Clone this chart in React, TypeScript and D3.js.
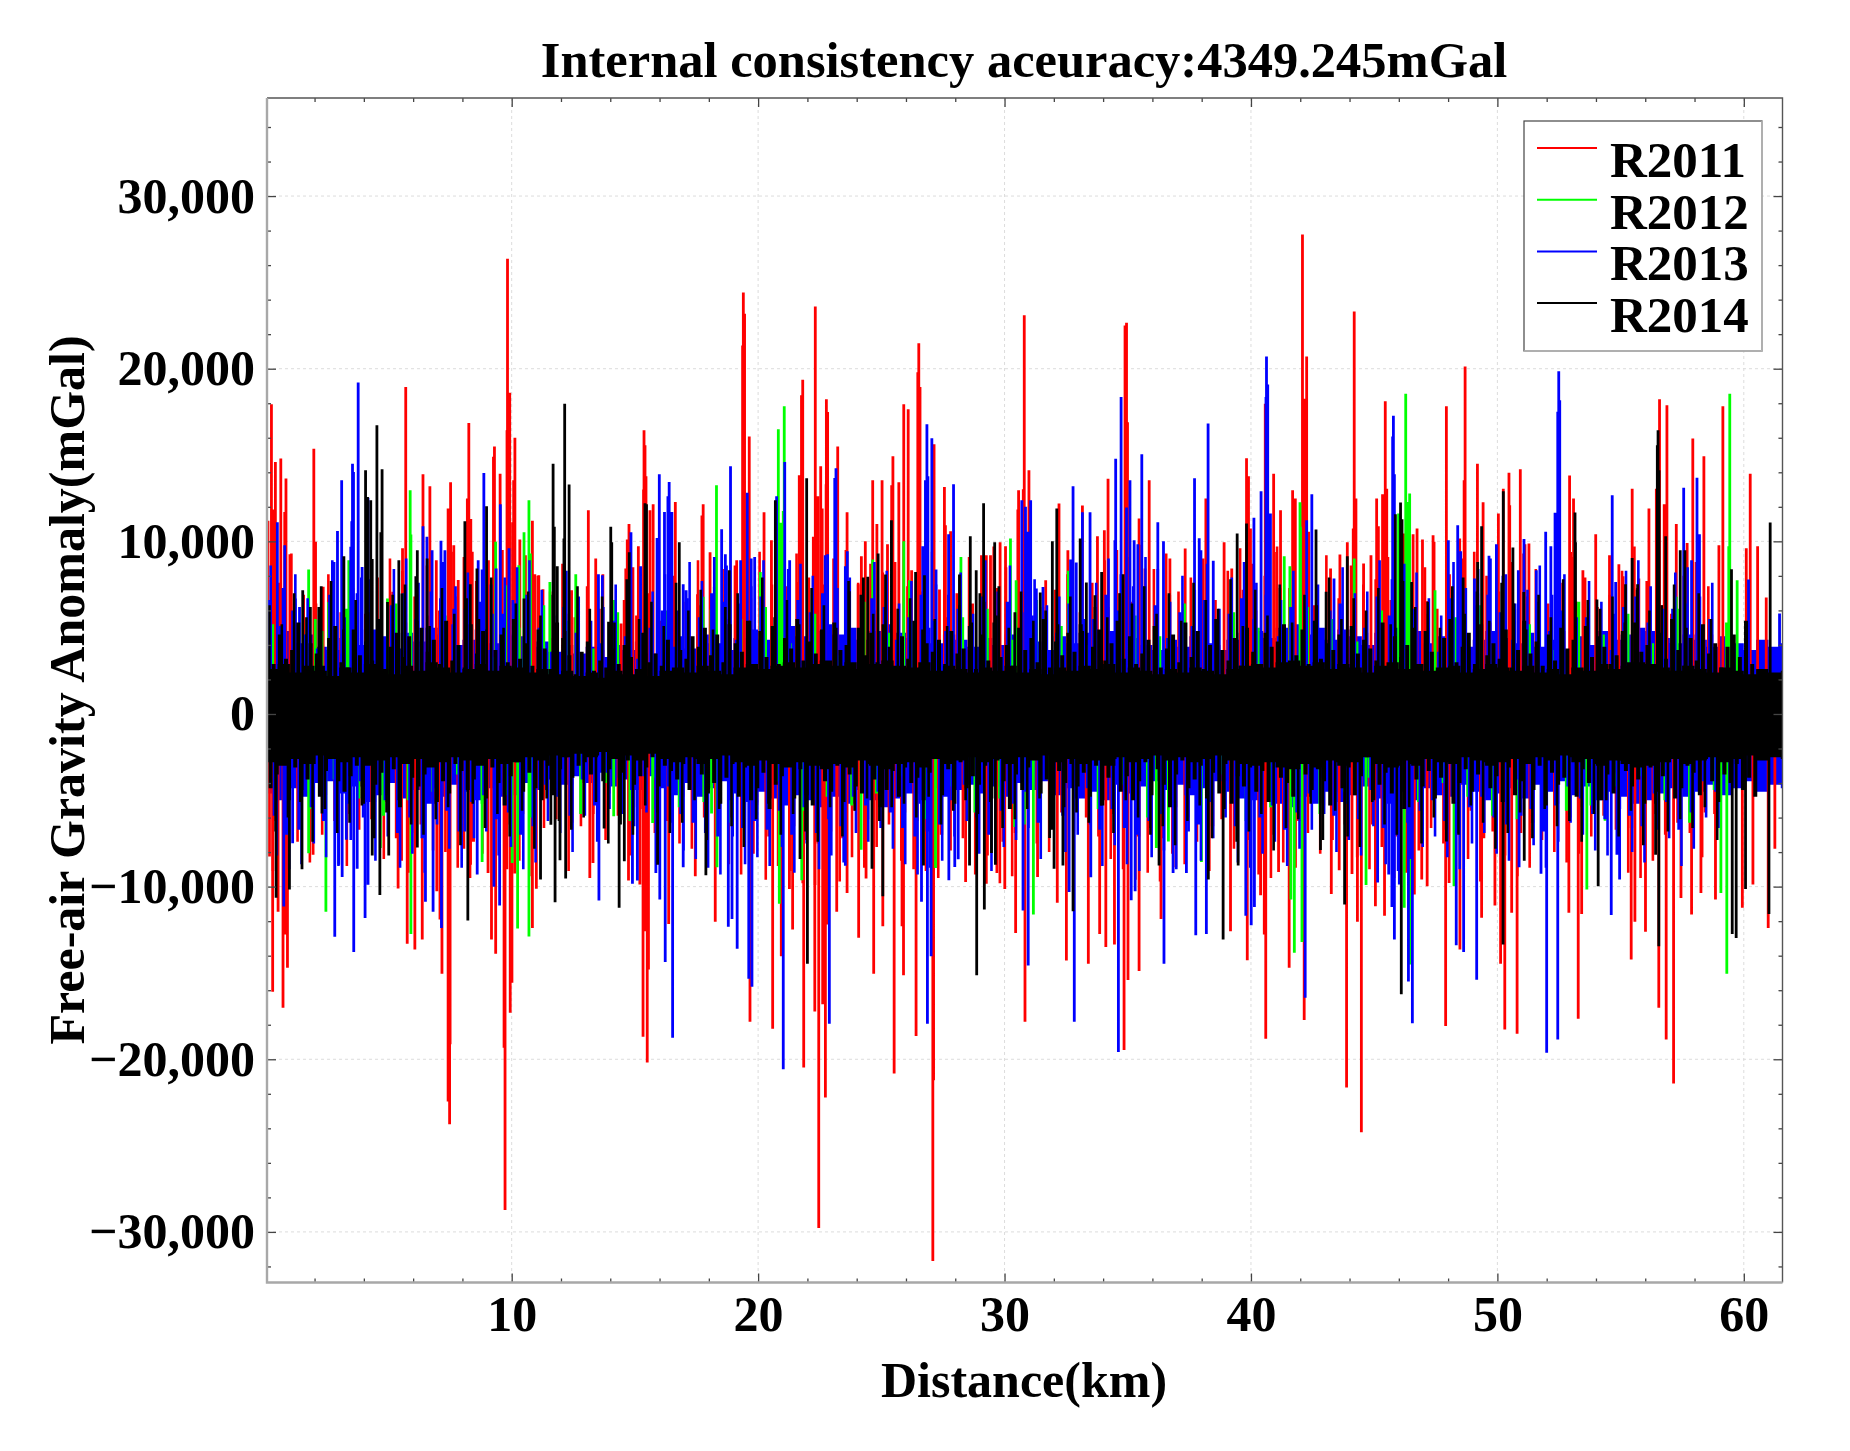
import React, { useEffect, useRef } from 'react';
import * as d3 from 'd3';

const seriesNames = ["R2011", "R2012", "R2013", "R2014"];
const seriesColors = ["#ff0000", "#00ff00", "#0000ff", "#000000"];

// spikes that stand clear of the band: [km, mGal]
const r2011Peaks = [
  [0.25,17940],[0.41,14600],[0.63,14800],[0.84,13640],[0.79,11700],[1.0,9250],[1.97,15370],[2.04,9970],[2.35,7370],[0.11,11200],[0.3,11840],[5.7,18940],[5.57,9600],[6.4,13880],[6.68,13190],[6.94,8900],[7.52,13420],[7.42,11900],[7.65,9780],[8.26,16860],[8.2,12480],[8.34,11300],[8.4,9400],[7.83,7760],[9.3,15500],[9.26,14900],[9.53,13920],[9.62,9500],[9.83,26370],[9.92,18600],[9.81,16430],[10.13,16000],[10.08,13540],[10.04,11100],[10.33,10100],[10.84,11200],[10.94,8100],[11.1,8040],[11.27,7230],[13.11,11800],[13.41,9000],[13.7,8100],[14.44,5240],[14.63,8430],[14.76,11000],[14.69,10100],[15.14,9720],[15.37,16430],[15.41,15560],[15.35,13000],[5.17,7080],[14.92,8500],[12.43,7170],
  [19.4,24420],[19.45,23180],[19.37,21350],[19.64,16080],[22.32,23600],[21.81,19360],[21.76,18460],[21.67,13830],[22.77,18230],[22.82,17490],[22.54,14350],[22.42,12610],[23.23,15500],[22.6,11900],[22.76,13310],[22.24,10260],[23.61,11690],[15.45,13770],[15.61,11800],[15.74,12150],[16.64,12280],[17.77,12150],[17.72,11500],[20.24,11690],[20.54,10070],[18.05,9370],[17.54,6940],[19.13,8900],[24.19,9140],[24.35,10000],[24.06,7520],[24.65,13540],[24.82,11000],[25.03,13540],[25.25,9830],[25.47,14930],[25.42,13250],[25.71,13420],[25.91,17940],[26.09,17650],[26.52,21480],[26.48,19790],[26.57,18940],[26.23,8330],[27.14,15620],[27.56,13150],[27.6,10930],[27.81,10590],[27.36,7210],[29.43,9200],[29.82,9950],[30.04,9720],[30.57,12960],[30.54,11840],[30.8,23090],[30.76,13020],[21.6,7650],[29.26,9200],
  [34.95,22660],[34.89,22500],[34.99,16900],[30.99,14120],[32.21,12190],[34.2,13630],[33.77,10300],[34.05,10640],[35.87,13540],[35.46,11320],[35.7,8430],[32.57,9490],[33.16,12070],[36.71,9000],[37.33,9580],[38.17,12480],[38.91,9950],[39.22,8430],[39.82,14810],[39.9,13770],[39.98,10740],[40.58,17970],[40.92,13920],[41.2,11800],[41.04,9390],[41.69,12960],[41.8,12480],[42.09,27770],[42.26,20710],[42.16,18260],[42.34,10550],[44.19,23320],[44.26,12480],[44.15,10740],[43.91,9950],[43.61,9240],[45.45,18110],[45.51,13050],[45.34,12730],[45.1,12480],[45.17,10880],[44.87,9200],[44.57,8720],[46.22,10450],[43.23,8430],[31.67,7750],
  [48.69,20130],[47.93,17820],[48.65,13540],[49.19,14500],[49.42,12260],[47.39,10350],[47.43,9970],[46.58,10410],[46.74,10740],[46.96,10100],[48.47,10160],[47.17,6550],[50.24,13050],[50.47,13980],[50.93,14170],[50.04,11610],[51.12,9830],[51.28,9870],[50.5,12090],[52.93,13810],[53.09,12480],[53.99,10410],[54.93,8680],[54.55,9200],[55.47,13050],[56.15,11900],[56.58,18230],[56.88,17880],[56.77,12150],[56.45,13050],[57.26,11000],[57.93,15950],[58.38,14930],[57.7,9910],[59.15,17820],[58.99,9780],[60.26,13920],[60.1,9600],[60.56,9720],[60.91,6750],[53.47,8330],[55.1,7980],[55.74,7850],[52.97,9390],
  [0.3,-16090],[0.72,-17010],[0.9,-14700],[0.52,-11460],[0.17,-8250],[0.79,-12770],[1.94,-8150],[5.39,-10110],[5.53,-8500],[5.76,-13310],[6.07,-13640],[6.37,-13060],[6.96,-10270],[7.09,-11910],[7.17,-15050],[7.48,-23760],[7.42,-22450],[7.5,-19130],[8.06,-7800],[8.33,-8730],[9.18,-13060],[9.35,-13890],[9.73,-28730],[9.69,-19330],[9.94,-17300],[10.01,-15570],[9.04,-9210],[10.84,-12390],[11.0,-10120],[13.17,-9500],[13.3,-8630],[14.74,-9650],[15.33,-18690],[15.41,-12580],[10.13,-9240],[15.2,-9880],[12.41,-6500],[0.05,-10350],
  [15.5,-20190],[15.55,-14800],[19.67,-17820],[20.59,-18230],[18.26,-12040],[17.45,-9400],[21.4,-12480],[21.85,-20480],[22.46,-29770],[22.73,-22220],[22.3,-17240],[22.62,-16820],[23.19,-11460],[24.08,-12960],[24.69,-15050],[25.06,-12290],[25.52,-20830],[25.9,-15130],[26.41,-18650],[25.84,-12290],[27.09,-31690],[27.12,-21210],[28.42,-9730],[29.26,-9840],[30.01,-10130],[30.45,-12680],[30.83,-17820],[16.37,-12160],[21.27,-10130],[23.61,-10370],[24.38,-9530],[20.94,-14030],[22.82,-12200],[29.69,-9210],
  [32.51,-14280],[32.14,-10940],[31.34,-9440],[33.4,-14470],[33.86,-12740],[34.11,-13490],[34.46,-13350],[34.85,-19460],[35.01,-15410],[35.46,-14890],[36.35,-11870],[36.95,-8880],[39.17,-12580],[39.85,-14260],[40.6,-18810],[40.39,-10500],[41.55,-14700],[42.16,-17720],[43.26,-10420],[43.58,-9050],[43.88,-21640],[44.48,-24230],[44.32,-12040],[44.1,-9270],[45.05,-11140],[45.42,-11680],[41.12,-9150],[40.54,-12770],
  [47.9,-18070],[50.3,-18270],[50.8,-18520],[53.28,-17650],[55.43,-14220],[55.58,-12040],[56.01,-12620],[56.55,-17010],[56.85,-18850],[57.15,-21410],[50.13,-14470],[49.36,-11800],[49.9,-11090],[48.48,-13640],[50.58,-11520],[52.9,-11520],[53.42,-11580],[47.15,-9980],[46.93,-9590],[46.63,-10460],[48.04,-9790],[57.88,-11620],[57.45,-10660],[58.26,-10370],[58.85,-10750],[59.94,-11230],[60.99,-12390],[61.26,-7800],[60.37,-9880]
];
const r2012Peaks = [
  [1.76,8370],[2.57,6480],[3.39,8900],[5.88,12960],[5.91,10400],[4.96,6690],[9.35,9970],[9.75,7460],[10.29,8620],[10.5,10530],[10.7,12380],[10.76,9290],[11.55,7650],[12.6,8100],[14.17,6600],[2.03,5500],
  [20.82,16490],[21.06,17820],[21.02,11760],[20.92,11070],[18.31,13250],[18.22,7370],[17.77,6790],[20.09,8230],[24.65,8950],[25.91,10000],[26.14,7750],[28.23,9100],[30.24,10160],[30.47,7750],[18.09,6050],
  [41.99,12260],[42.01,10840],[41.35,9140],[41.58,8560],[44.19,9000],[45.99,11610],[32.59,8290],
  [46.28,18550],[46.44,12770],[46.39,12280],[59.43,18550],[59.39,9720],[59.73,7750],[47.47,7170],[57.26,6790],
  [2.46,-11460],[1.76,-8060],[5.91,-12740],[10.24,-12430],[10.7,-12890],[7.92,-5930],[8.8,-8570],[14.14,-5930],[10.02,-8630],[4.67,-7760],
  [20.86,-10990],[21.77,-9630],[18.33,-8880],[27.2,-8920],[24.18,-7860],[30.41,-6540],[15.72,-6320],[18.11,-5770],
  [31.17,-11620],[41.76,-13830],[42.07,-13200],[37.99,-8570],[44.67,-9910],[46.22,-11230],[36.16,-7760],[36.65,-7380],[41.62,-10750],
  [59.31,-15050],[46.44,-14510],[53.63,-10170],[48.24,-9980],[59.07,-10370],[54.37,-6180]
];
const r2013Peaks = [
  [3.77,19200],[3.54,14500],[3.58,14020],[3.1,13540],[2.93,10600],[2.79,8800],[0.49,11100],[0.79,9780],[1.22,6690],[1.39,6200],[3.47,9680],[3.51,11170],[3.93,8520],[3.9,7900],[4.17,12530],[6.4,10880],[6.56,10260],[6.77,9490],[7.13,10030],[7.29,9490],[7.23,8810],[7.65,6100],[8.64,8900],[8.87,13960],[9.54,12150],[8.8,8370],[9.37,8430],[9.89,9600],[10.05,6600],[14.84,10530],[15.23,8560],[13.52,8100],[13.68,8040],[5.2,6100],[9.16,7500],
  [15.99,13880],[16.39,13440],[16.2,11700],[16.34,12610],[18.88,14350],[18.52,10700],[18.67,9250],[15.9,10200],[16.5,11700],[19.56,12820],[19.72,9000],[19.86,9100],[20.75,12610],[21.08,14600],[21.28,8900],[23.16,14230],[23.11,13670],[23.54,8560],[23.62,9430],[26.85,16780],[27.05,15970],[26.79,13540],[26.89,13770],[26.68,9720],[27.93,13310],[27.73,10410],[30.7,12380],[30.85,12000],[16.96,7520],[17.08,7170],[22.82,9250],[27.22,8370],[19.29,8900],
  [31.06,12380],[30.96,10550],[32.78,13190],[32.68,8950],[32.91,8770],[33.16,11690],[33.47,11690],[34.51,14790],[34.73,18360],[35.09,13540],[34.95,11960],[34.48,10070],[35.57,15040],[35.26,10070],[35.41,9830],[36.22,11110],[36.45,10010],[37.71,13650],[38.26,16820],[37.9,10180],[37.97,9490],[38.47,8870],[40.63,20710],[40.68,19090],[40.41,12900],[40.12,11360],[40.61,18360],[40.79,11610],[42.47,12730],[42.26,11220],[45.78,17280],[45.75,16080],[45.82,13880],[43.37,7850],[31.29,7270],[31.56,7360],
  [52.49,19850],[52.53,18170],[52.45,17500],[52.34,11650],[51.96,10550],[52.17,9720],[54.66,12670],[57.56,13110],[58.1,13690],[58.2,10410],[48.39,10930],[48.01,10070],[48.51,9430],[49.96,9830],[49.66,9160],[51.08,10130],[50.85,8330],[51.58,8330],[50.34,8100],[60.19,7790],[57.88,8900],[49.07,7850],[54.8,7650],[61.45,5820],
  [2.82,-12910],[3.59,-13780],[4.05,-11810],[3.12,-9440],[2.98,-8730],[3.29,-7280],[3.73,-8960],[4.17,-9890],[6.5,-10880],[6.81,-11460],[8.6,-9300],[9.51,-11100],[9.28,-10000],[13.54,-10800],[1.11,-7480],[8.1,-6800],[0.75,-11150],[7.15,-12400],[14.9,-9840],[15.1,-9640],
  [16.53,-18750],[16.23,-14360],[16.01,-10750],[15.85,-9210],[21.02,-20580],[19.15,-13600],[18.79,-12330],[18.94,-11870],[19.75,-15800],[19.62,-15340],[22.89,-17940],[26.87,-17940],[27.02,-14030],[26.63,-10880],[30.75,-11380],[27.74,-9630],[27.98,-8860],[28.12,-8410],[16.96,-8880],[23.54,-8790],
  [30.96,-14570],[32.83,-17820],[34.62,-19580],[36.47,-14470],[37.76,-12810],[38.19,-12740],[42.2,-16440],[40.01,-12230],[39.79,-11680],[35.3,-10270],[35.14,-10790],[36.84,-9210],[37.38,-9210],[32.62,-10310],[45.82,-13060],[45.14,-9760],[45.72,-11180],[40.14,-11180],[33.5,-9460],[46.02,-9880],[45.59,-9300],
  [46.55,-17920],[46.39,-15490],[48.33,-13390],[48.63,-13780],[49.16,-15400],[52,-19620],[52.45,-18850],[54.62,-11640],[51.77,-9260],[50.88,-8880],[54.96,-9590],[54.85,-8150]
];
const r2014Peaks = [
  [4.53,16720],[4.07,14120],[4.74,14170],[4.28,12380],[4.15,12570],[4.34,8980],[4.69,10530],[3.19,9140],[1.52,7170],[2.27,7400],[12.15,17970],[11.68,14500],[11.73,10840],[12.33,13290],[12.12,10160],[11.85,8560],[8.1,11170],[8.98,12030],[8.59,8430],[5.42,8900],[6.17,9490],[5.55,6980],[6.57,9000],[14.02,10840],[14.06,9950],[14.77,9370],[13.93,5340],[10.5,6690],[4.96,6490],[8.32,7520],[6.11,7980],[1.83,6200],[15.41,12200],
  [15.47,12150],[16.8,9950],[20.7,12380],[21.97,13650],[25.41,11220],[24.87,9290],[24.27,7900],[28.61,10300],[29.15,12200],[28.85,8330],[26.39,8230],[26.75,8040],[29.6,9950],[28.17,8080],[18.83,8330],[25.17,8080],[29,7000],[29.77,7400],[24.45,7950],[30.42,5900],[23.7,7110],
  [31.94,10010],[32.12,11900],[39.44,10450],[39.82,11030],[42.64,10680],[45.86,11570],[46.07,12250],[33.07,10160],[33.32,7620],[33.94,8230],[46.13,11280],[43.91,9140],[43.05,7080],[31.45,7040],[34.81,8100],[33.67,6880],
  [56.52,16430],[56.49,15560],[56.56,14120],[50.24,12900],[49.36,10880],[50.63,9640],[53.15,11670],[53.17,9950],[61.07,11090],[55.47,9040],[56.83,10300],[57.42,9490],[57.61,9490],[48.61,7900],[49.2,8810],[59.5,8390],[55.2,7520],[55.69,7520],[54.04,6630],[46.52,7650],[51.07,7070],
  [0.44,-10650],[0.98,-10170],[1.49,-9000],[4.65,-10480],[4.34,-8190],[5.01,-8190],[8.22,-11960],[11.17,-9590],[11.76,-10910],[11.96,-8470],[12.19,-9530],[11.59,-6410],[14.36,-11230],[14.57,-8530],[6.17,-7730],[2.3,-5760],[13.75,-6640],
  [28.87,-15130],[29.18,-11330],[22,-14470],[17.88,-9340],[25.06,-10560],[28.58,-8770],[29.63,-8730],[24.62,-8960],[26.71,-8770],[21.7,-8400],[29.47,-8050],[15.92,-8730],
  [46.1,-16240],[43.8,-11040],[38.87,-13060],[32.78,-11420],[32.01,-8960],[31.83,-7190],[38.27,-9590],[36.27,-8770],[39.48,-8770],[32.37,-8770],[42.82,-7880],
  [50.23,-13350],[56.55,-13450],[59.53,-12740],[59.69,-12970],[61.02,-11580],[54.09,-9980],[51.09,-8500],[60.07,-10130],[47.93,-7380],[56.42,-8150]
];

// the crowd under the spikes, one reading per sampling step, up and down in turn
const denseStepKm = [0.25, 0.5, 0.25, 0.125];
const denseStartKm = [0.19, 0.3, 0.12, 0.09];
const denseWidths = [3.4, 3, 3.4, 4];
const r2011Dense = [
  5600,-6200,7100,-4800,6400,-5300,4300,-3900,3600,-4700,5100,-3400,3900,-5800,4600,-4200,3300,-3600,4800,-5100,
  6200,-4400,5300,-6900,4100,-3800,5700,-4900,3500,-5500,6800,-6100,7300,-7400,4900,-5200,6100,-4500,3800,-6400,
  7200,-5800,6600,-7000,5400,-4100,4400,-3700,5800,-6300,3200,-4000,4700,-3300,3700,-4600,5000,-3500,4200,-5400,
  3400,-3100,4500,-4300,3000,-3800,5200,-4800,3900,-5000,6300,-3600,4000,-4700,5500,-6000,5900,-6600,6700,-5300,
  7000,-7100,4600,-5900,7400,-6500,6900,-7300,5100,-7500,7500,-6800,6500,-7200,7200,-5600,4800,-6100,6000,-4900,
  5400,-3900,6100,-5700,4700,-6200,7100,-6400,6800,-7000,5600,-5100,4300,-4400,6400,-6700,6600,-5500,7300,-7400,
  5800,-6900,4200,-3800,5000,-4700,3700,-5200,4400,-3400,5300,-4100,3500,-3600,4900,-4500,6200,-5800,7000,-6300,
  6500,-7100,7400,-6600,5700,-7200,6900,-5400,4500,-6000,5100,-4800,6300,-6500,4000,-3700,5600,-5000,7200,-7300,
  6000,-6800,5200,-7000,7300,-5900,4600,-6200,5500,-4300,3800,-5300,6700,-4600,4100,-3900,5900,-5700,4700,-6400,
  5000,-4900,6600,-7100,7100,-6700,4300,-5100,5800,-4000,3600,-4800,5400,-6100,6400,-5600,7000,-7200,5300,-4200,
  4400,-5500,6100,-6900,6800,-6300,5700,-4700,3900,-5200,4800,-6000,6500,-5400,5100,-4500,3700,-3500,4200,-4100,
  5600,-6600,7300,-7000,4900,-5800,6300,-4400,3400,-3800,5200,-4300,6200,-5700,4600,-3600
];
const r2012Dense = [
  5200,-4100,3600,-5500,4800,-3800,6100,-4900,4200,-5900,6400,-5000,3900,-4500,5700,-3500,4400,-5200,3300,-4700,
  5000,-6000,6300,-4300,5400,-5800,3800,-4000,5900,-6200,4600,-3700,6000,-5400,3500,-5100,4900,-6300,5500,-4400,
  6200,-3900,4100,-5600,5800,-4800,3400,-5300,6500,-4600,4700,-3600,5300,-6100,3700,-4200,5600,-5700,6100,-4900,
  4300,-6400,6600,-3800,5100,-5000,4000,-5500,3600,-4100,5700,-6000,4500,-5200,6400,-4700,3900,-3500,5900,-6200,
  5000,-5400,3800,-4300,6200,-5800,5500,-4500,4200,-3700,6000,-6500,4800,-5100,3500,-4000,5600,-4800,6300,-5900,
  4400,-6100,5200,-3900,3700,-5600,6500,-5300,4600,-4200,5800,-3600,4100,-5000,6100,-6300,3400,-4400,5300
];
const r2013Dense = [
  6600,-5900,5100,-7000,6000,-6700,4600,-5400,3800,-6200,6900,-6600,3500,-5200,4800,-3900,5700,-6400,4200,-5000,
  6300,-6900,7000,-6000,5500,-7200,4900,-4300,6700,-5600,5200,-6800,6100,-5100,4400,-4700,3700,-6100,5800,-5700,
  6400,-7000,6900,-6500,5000,-4100,3600,-4800,6200,-5900,4700,-3800,3300,-5300,4100,-3400,5400,-3700,4500,-4400,
  3200,-3600,5000,-5500,6000,-4200,3900,-5800,6700,-6300,5600,-6900,7000,-7100,6500,-5000,4300,-6600,5300,-6200,
  6800,-6700,4000,-5600,6300,-7000,6600,-5400,5900,-6900,7000,-6100,5200,-6500,5800,-4800,4600,-5300,6700,-4500,
  6200,-5700,4300,-6600,5600,-7100,6900,-6800,5400,-6400,4800,-5000,6100,-4100,3700,-6000,6800,-7000,5000,-5600,
  6500,-5200,3800,-4500,5700,-6300,4200,-3600,4700,-5900,6400,-4900,3400,-4300,5500,-6700,6900,-5500,6000,-6600,
  5300,-7000,7000,-6200,6300,-5800,4400,-6900,5900,-4700,5100,-6400,6600,-5100,4000,-3900,5800,-6500,6700,-6800,
  5500,-6000,6900,-5300,4500,-6700,6200,-5700,4100,-4600,5400,-3700,3900,-5900,6400,-5200,4900,-6100,5000,-4400,
  6800,-6600,5700,-7000,6600,-6300,6100,-5600,4600,-5000,3600,-6200,6700,-6900,5200,-5400,6300,-4800,6900,-6000,
  5900,-6400,4300,-3800,5100,-5500,6500,-6800,4800,-5300,6000,-4200,3500,-4900,5600,-5800,4400,-6100,3700,-3400,
  6200,-5900,6800,-6500,5300,-4600,4000,-5100,6100,-6700,6400,-5700,4700,-3900,5500,-4500
];
const r2014Dense = [
  3800,-4300,2900,-3500,4600,-2700,3200,-5000,3700,-3100,5300,-4400,2500,-3800,4100,-2900,3500,-4800,2800,-3300,
  4400,-2600,5100,-3900,3000,-4500,2700,-3600,4900,-3000,3400,-5200,4200,-2800,3100,-4100,5500,-3400,2600,-4700,
  3900,-3200,4700,-5400,3300,-2500,4500,-3700,2400,-4200,5000,-3500,3600,-2700,4300,-5100,2900,-3900,5400,-4600,
  3100,-2900,4000,-3300,2700,-4400,5200,-3800,3500,-2600,4800,-4900,2500,-3100,3700,-4000,4600,-5300,3000,-3600,
  5500,-2800,3200,-4500,4100,-3400,2800,-4300,4900,-5000,3800,-3000,2600,-4700,5300,-3200,4400,-2500,3400,-3700,
  2300,-3000,3600,-2800,4200,-3500,2500,-2400,3100,-3900,2700,-3200,3800,-2600,2900,-3400,4000,-2700,3300,-4100,
  2600,-3600,4700,-3100,3000,-2500,3500,-4200,2800,-3000,4300,-3300,2400,-3800,3700,-2900,3200,-4400,4500,-2600,
  3900,-3500,5000,-4600,3400,-4000,4600,-5200,3000,-3700,5200,-2900,4100,-4800,3600,-3100,5400,-5000,2700,-4300,
  4800,-3400,3300,-5500,5100,-4100,2900,-3600,4400,-2800,3800,-4900,5500,-3200,3100,-4700,4200,-5300,3500,-2700,
  4900,-3900,2800,-4500,5300,-3000,3700,-5100,4000,-3500,2600,-4200,5000,-4600,3400,-2900,4700,-3800,3000,-5400,
  5200,-4400,3900,-3300,2500,-4800,4500,-3100,3200,-4000,5400,-3700,2700,-5000,4100,-3400,3600,-2600,4300,-4700,
  2900,-3200,4800,-5200,3500,-2800,3800,-4300,5100,-3600,2600,-4100,4600,-3000,3100,-4900,5300,-2700,3300,-3900,
  4000,-5500,2800,-3500,5000,-4400,3700,-3100,4400,-2500,3000,-4600,5500,-3800,2700,-5100,4200,-3300,3400,-4000,
  4700,-2900,3600,-4200,5200,-3400,2500,-4800,3900,-3000,4900,-5300,3100,-3700,4100,-2600,5400,-4500,3200,-3600,
  4500,-5000,2900,-3900,3500,-2800,4300,-4700,5100,-3200,2700,-4100,3800,-5400,4600,-3500,3000,-2700,5300,-4300,
  3300,-3800,4800,-3000,2600,-4900,4000,-3400,5500,-4600,3700,-2900,3100,-5200,4400,-3600,2800,-4200,5000,-3100,
  3600,-4500,2500,-3300,4700,-5100,3900,-2700,4200,-3700,5200,-4000,3000,-4800,3400,-2600,4900,-3500,2900,-4400,
  5400,-3200,3200,-3900,4100,-5300,3700,-2800,4600,-4300,2700,-3100,5100,-4700,3500,-3600,4300,-2500,3800,-5000,
  3100,-4100,5300,-3400,2600,-4600,4500,-3000,3300,-5500,4000,-2900,5000,-3800,2800,-4200,4800,-3300,3600,-4900,
  2500,-3700,4400,-2700,5500,-5200,3000,-4000,3900,-3200,4700,-4500,2900,-3500,5200,-2800,3400,-4300,4100,-3600,
  3200,-5100,4900,-3100,2700,-4700,3700,-3900,5400,-2600,3500,-4400,4200,-3000,2800,-5300,4600,-3400,3100,-4100,
  5000,-3700,3800,-2500,4300,-4800,2600,-3200,5100,-4000,3300,-2900,4500,-5000,3900,-3500,2900,-4600,3400,-2700,
  4800,-3300,3000,-4200,5300,-3800,3600,-5200,4000,-3100,2500,-4500,4700,-3600,3200,-2800,5500,-4900,3700,-4300,
  2800,-3000,4400,-3400,3100,-4700,5200,-2600,3500,-3900,4100,-5100,2700,-3500,3900,-4000,4600,-2900,3300,-4400,
  5400,-3700,2900,-4800
];

// taller needles that crowd the 5,000 to 9,000 zone, one per 0.25 km, up and down in turn
const upperStepKm = 0.25;
const upperStartKm = [0.06, 0.0, 0.22, 0.17];
const r2011Upper = [
  8800,-9100,7600,-8200,9300,-7400,6900,-8600,6400,-7000,8100,-6200,5900,-8800,7300,-6700,5800,-6100,7900,-8400,
  9000,-7200,8300,-9200,6800,-6400,8600,-7900,6000,-8000,9400,-8900,9100,-9500,7700,-8100,8900,-7000,6300,-9000,
  9500,-8500,9200,-9400,8000,-6600,7100,-6100,8700,-9100,5600,-6500,7400,-5800,6100,-7300,7800,-5900,6600,-8200,
  5700,-5500,7000,-6900,5400,-6200,8000,-7500,6500,-7800,8900,-6000,6700,-7200,8400,-8700,8600,-9300,9200,-8100,
  9400,-9600,7500,-8800,9700,-9100,9300,-9800,7900,-9900,9800,-9200,9000,-9700,9500,-8300,7600,-8900,8700,-7700,
  8200,-6400,8800,-8500,7400,-9000,9600,-9100,9400,-9500,8300,-7900,7000,-7200,9100,-9300,9200,-8200,9700,-9800,
  8500,-9400,6900,-6300,7800,-7500,6200,-8000,7200,-5700,8100,-6800,5900,-6000,7600,-7100,8900,-8400,9500,-9000,
  9100,-9600,9800,-9200,8400,-9700,9300,-8100,7100,-8700,7900,-7400,9000,-9100,6600,-6100,8300,-7800,9600,-9700,
  8700,-9300,8000,-9500,9700,-8600,7300,-8900,8200,-6900,6300,-8100,9200,-7300,6700,-6400,8600,-8300,7500,-9000,
  7800,-7700,9100,-9500,9600,-9200,7000,-7900,8500,-6600,6100,-7500,8100,-8800,9000,-8400,9400,-9700,8000,-6800,
  7100,-8200,8800,-9400,9300,-8900,8400,-7300,6400,-8000,7600,-8600,9100,-8100,7900,-7100,6200,-5900,6900,-6700,
  8300,-9200,9700,-9500,7700,-8500,8900,-7000,5800,-6300,8000,-6900,8800,-8300,7400,-5800
];
const r2013Upper = [
  8600,-8200,7300,-9000,8100,-8700,6700,-7500,5900,-8300,8900,-8800,5600,-7300,7000,-6000,7800,-8500,6300,-7100,
  8400,-8900,9000,-8100,7600,-9200,7100,-6400,8800,-7800,7400,-8900,8200,-7200,6500,-6800,5800,-8200,7900,-7700,
  8500,-9000,8900,-8600,7200,-6200,5700,-6900,8300,-8000,6800,-5900,5400,-7400,6200,-5500,7500,-5800,6600,-6500,
  5300,-5700,7100,-7600,8100,-6300,6000,-7900,8800,-8400,7700,-8900,9100,-9300,8600,-7100,6400,-8700,7400,-8300,
  8900,-8800,6100,-7700,8400,-9200,8700,-7500,8000,-9000,9200,-8200,7300,-8600,7900,-6900,6700,-7400,8800,-6600,
  8300,-7800,6400,-8700,7700,-9300,9000,-8900,7500,-8500,6900,-7100,8200,-6200,5800,-8100,8900,-9100,7100,-7700,
  8600,-7300,5900,-6600,7800,-8400,6300,-5700,6800,-8000,8500,-7000,5500,-6400,7600,-8800,9000,-7600,8100,-8700,
  7400,-9100,9100,-8300,8400,-7900,6500,-9000,8000,-6800,7200,-8500,8700,-7200,6100,-6000,7900,-8600,8800,-8900,
  7600,-8100,9000,-7400,6600,-8800,8300,-7800,6200,-6700,7500,-5800,6000,-8000,8500,-7300,7000,-8200,7100,-6500,
  8900,-8700,7800,-9100,8700,-8400,8200,-7700,6700,-7100,5700,-8300,8800,-9000,7300,-7500,8400,-6900,9000,-8100,
  8000,-8500,6400,-5900,7200,-7600,8600,-8900,6900,-7400,8100,-6300,5600,-7000,7700,-7900,6500,-8200,5800,-5500,
  8300,-8000,8900,-8600,7400,-6700,6100,-7200,8200,-8800,8500,-7800,6800,-6000,7600,-6600
];
const r2014Upper = [
  6300,-6800,5200,-6000,7000,-5100,5600,-7400,6200,-5500,7700,-6900,4900,-6300,6600,-5300,5900,-7200,5200,-5700,
  6900,-5000,7500,-6400,5400,-7000,5100,-6100,7300,-5400,5800,-7600,6700,-5200,5500,-6600,7900,-5800,5000,-7100,
  6400,-5600,7100,-7800,5700,-4900,6900,-6200,4800,-6700,7400,-6000,6100,-5100,6800,-7500,5300,-6400,7800,-7000,
  5500,-5300,6500,-5700,5100,-6900,7600,-6300,6000,-5000,7200,-7300,4900,-5500,6200,-6500,7000,-7700,5400,-6100,
  7900,-5200,5600,-7000,6600,-5800,5200,-6800,7300,-7400,6300,-5400,5000,-7100,7700,-5600,6900,-4900,5800,-6200,
  4700,-5400,6100,-5200,6700,-6000,4900,-4800,5500,-6400,5100,-5600,6300,-5000,5300,-5800,6500,-5100,5700,-6600,
  5000,-6100,7100,-5500,5400,-4900,6000,-6700,5200,-5400,6800,-5700,4800,-6300,6200,-5300,5600,-6900,7000,-5000,
  6400,-6000,7400,-7000,5800,-6500,7000,-7600,5400,-6200,7600,-5300,6600,-7200,6100,-5500,7800,-7400,5100,-6800,
  7200,-5800,5700,-7900,7500,-6600,5300,-6100,6900,-5200,6300,-7300,7900,-5600,5500,-7100,6700,-7700,6000,-5100,
  7300,-6400,5200,-7000,7700,-5400,6200,-7500,6500,-6000,5000,-6700,7400,-7000,5800,-5300,7100,-6300,5400,-7800,
  7600,-6900,6400,-5700,4900,-7200,6900,-5500,5600,-6500,7800,-6200,5100,-7400,6600,-5800,6100,-5000,6800,-7100,
  5300,-5600,7200,-7600,6000,-5200,6300,-6800,7500,-6100,5000,-6600,7000,-5400,5500,-7300
];

// envelopes of the band too dense to resolve, one reading per 0.5 km
const bandStepKm = 0.5;
const coreTop = [
  2600,2900,2400,2800,2500,2200,2700,2400,2900,2600,2300,2800,2500,3000,2700,2400,2600,2900,2500,2800,2700,2400,2600,2300,2500,
  2200,2400,2100,2500,2300,2600,2200,2500,2700,2400,2800,2500,2300,2700,2900,2600,2800,3000,2700,2900,3100,2800,3000,2600,2900,
  3100,2800,2700,3000,2500,2800,2600,2400,2700,2500,2800,2400,2600,2300,2700,2500,2800,2600,2900,2400,2700,2500,2300,2600,2400,
  2700,2500,2300,2600,2800,2900,2700,3000,3100,2800,3000,2600,2900,2700,2400,2800,3000,2600,2900,2500,2700,2800,2400,2600,2900,
  2700,2500,2800,2400,2600,2300,2700,2500,2900,2600,2800,3000,2900,2700,2500,2800,2600,2400,2700,2500,2300,2600,2400,2500,2300
];
const coreBottom = [
  -2800,-3000,-2600,-2900,-2400,-2600,-2800,-2500,-3000,-2700,-2500,-2900,-2600,-3100,-2800,-2500,-2700,-3000,-2600,-2900,-2800,-2500,-2700,-2400,-2500,
  -2300,-2500,-2200,-2600,-2400,-2700,-2300,-2600,-2800,-2500,-2900,-2600,-2400,-2800,-3000,-2700,-2900,-3100,-2800,-3000,-3200,-2900,-3100,-2700,-3000,
  -3200,-2900,-2800,-3100,-2600,-2900,-2700,-2500,-2800,-2600,-2900,-2500,-2700,-2400,-2800,-2600,-2900,-2700,-3000,-2500,-2800,-2600,-2400,-2700,-2500,
  -2800,-2600,-2400,-2700,-2900,-3000,-2800,-3100,-3200,-2900,-3100,-2700,-3000,-2800,-2500,-2900,-3100,-2700,-3000,-2600,-2800,-2900,-2500,-2700,-3000,
  -2800,-2600,-2900,-2500,-2700,-2400,-2800,-2600,-3000,-2700,-2900,-3100,-3000,-2800,-2600,-2900,-2700,-2500,-2800,-2600,-2400,-2700,-2500,-2600,-2400
];
const blueTop = [
  4300,4800,4100,4600,3900,3700,4400,4000,4900,4500,3800,4700,4200,5000,4600,4000,4300,4900,4100,4600,4500,3900,4200,3600,4000,
  3500,3900,3300,4000,3700,4200,3500,4100,4500,3800,4600,4100,3700,4400,4900,4300,4700,5100,4500,4800,5200,4600,5000,4300,4800,
  5200,4700,4400,5000,4100,4600,4300,3900,4400,4000,4600,3900,4200,3700,4500,4100,4700,4300,4800,3900,4400,4000,3700,4300,3900,
  4500,4100,3700,4300,4700,4800,4400,5000,5200,4600,5000,4300,4900,4500,4000,4700,5000,4300,4800,4100,4500,4600,3900,4300,4800,
  4400,4100,4700,3900,4300,3700,4500,4000,4800,4300,4600,5000,4800,4400,4100,4600,4300,3900,4500,4100,3700,4300,3900,4100,3700
];
const blueBottom = [
  -4600,-5000,-4300,-4800,-4000,-3900,-4600,-4200,-5100,-4700,-4000,-4900,-4400,-5200,-4800,-4100,-4500,-5000,-4300,-4800,-4700,-4000,-4400,-3800,-4100,
  -3600,-4000,-3400,-4200,-3800,-4400,-3600,-4300,-4700,-4000,-4800,-4300,-3900,-4600,-5100,-4500,-4900,-5300,-4700,-5000,-5400,-4800,-5200,-4400,-5000,
  -5400,-4900,-4600,-5200,-4300,-4800,-4400,-4100,-4600,-4200,-4800,-4000,-4400,-3900,-4700,-4300,-4900,-4500,-5000,-4100,-4600,-4200,-3900,-4400,-4100,
  -4700,-4300,-3900,-4500,-4900,-5000,-4600,-5200,-5400,-4800,-5200,-4500,-5100,-4700,-4200,-4900,-5200,-4500,-5000,-4300,-4700,-4800,-4100,-4500,-5000,
  -4600,-4300,-4900,-4100,-4500,-3900,-4700,-4200,-5000,-4500,-4800,-5200,-5000,-4600,-4300,-4800,-4500,-4100,-4700,-4300,-3900,-4500,-4100,-4300,-3900
];

const peaksBySeries = [r2011Peaks, r2012Peaks, r2013Peaks, r2014Peaks];
const denseBySeries = [r2011Dense, r2012Dense, r2013Dense, r2014Dense];
const upperBySeries = [r2011Upper, [], r2013Upper, r2014Upper];

const xMajor = [10, 20, 30, 40, 50, 60];
const xMinor = d3.range(2, 62, 2).filter(d => d % 10 !== 0);
const yMajor = [-30000, -20000, -10000, 0, 10000, 20000, 30000];
const yMinor = d3.range(-32000, 36000, 2000).filter(d => d % 10000 !== 0);

const width = 1834;
const height = 1435;
const offset = 8; // body margin
const plot = { left: 267 - offset, right: 1782.5 - offset, top: 98 - offset, bottom: 1282.5 - offset };
const fontFamily = '"Liberation Serif", "Times New Roman", serif';

const App = () => {
    const svgRef = useRef<SVGSVGElement>(null);

    useEffect(() => {
        const svg = d3.select(svgRef.current);
        svg.selectAll("*").remove();

        const x = d3.scaleLinear().domain([0.07, 61.57]).range([plot.left, plot.right]);
        const y = d3.scaleLinear().domain([35680, -32930]).range([plot.top, plot.bottom]);

        svg.append("defs").append("clipPath").attr("id", "plot-clip")
            .append("rect")
            .attr("x", plot.left).attr("y", plot.top)
            .attr("width", plot.right - plot.left).attr("height", plot.bottom - plot.top);

        // grid
        const grid = svg.append("g").attr("stroke", "#dcdcdc").attr("stroke-dasharray", "3 3").attr("stroke-width", 1);
        xMajor.forEach(d => grid.append("line").attr("x1", x(d)).attr("x2", x(d)).attr("y1", plot.top).attr("y2", plot.bottom));
        yMajor.forEach(d => grid.append("line").attr("y1", y(d)).attr("y2", y(d)).attr("x1", plot.left).attr("x2", plot.right));

        const traces = svg.append("g").attr("clip-path", "url(#plot-clip)");

        const band = (top: number[], bottom: number[], fill: string) => {
            const area = d3.area<number>()
                .curve(d3.curveStepAfter)
                .x((d, i) => x(i * bandStepKm))
                .y0((d, i) => y(bottom[i]))
                .y1(d => y(d));
            traces.append("path").attr("d", area(top)).attr("fill", fill);
        };

        // each sample is a needle out of the zero line
        const line = d3.line<number[]>().x(d => x(d[0])).y(d => y(d[1]));
        const needles = (samples: number[][], i: number, strokeWidth: number) => {
            const points = samples.flatMap(([km, v]) => [[km, 0], [km, v], [km, 0]]);
            traces.append("path")
                .attr("class", seriesNames[i])
                .attr("d", line(points))
                .attr("fill", "none")
                .attr("stroke", seriesColors[i])
                .attr("stroke-width", strokeWidth);
        };

        band(blueTop, blueBottom, seriesColors[2]);
        seriesNames.forEach((name, i) => {
            needles(upperBySeries[i].map((v, j) => [upperStartKm[i] + j * upperStepKm, v]), i, 2.6);
            needles(denseBySeries[i].map((v, j) => [denseStartKm[i] + j * denseStepKm[i], v]), i, denseWidths[i]);
            needles(peaksBySeries[i], i, 2.8);
        });
        band(coreTop, coreBottom, seriesColors[3]);

        // axes, ticks point inward
        const format = d3.format(",");
        const ticks = svg.append("g");
        const addAxis = (axis: any, tx: number, ty: number, labelled: boolean) => {
            const g = ticks.append("g").attr("transform", `translate(${tx},${ty})`).call(axis);
            g.select(".domain").remove();
            g.selectAll("line").attr("stroke", "#444").attr("stroke-width", 1.3);
            if (labelled) {
                g.selectAll("text")
                    .attr("font-family", fontFamily)
                    .attr("font-size", 50)
                    .attr("font-weight", "bold")
                    .attr("fill", "#000");
            } else {
                g.selectAll("text").remove();
            }
        };
        addAxis(d3.axisLeft(y).tickValues(yMajor).tickSize(-9).tickPadding(12).tickFormat(d => format(d as number)), plot.left, 0, true);
        addAxis(d3.axisLeft(y).tickValues(yMinor).tickSize(-4).tickFormat(() => ""), plot.left, 0, false);
        addAxis(d3.axisRight(y).tickValues(yMajor).tickSize(-9).tickFormat(() => ""), plot.right, 0, false);
        addAxis(d3.axisRight(y).tickValues(yMinor).tickSize(-4).tickFormat(() => ""), plot.right, 0, false);
        addAxis(d3.axisBottom(x).tickValues(xMajor).tickSize(-9).tickPadding(13), 0, plot.bottom, true);
        addAxis(d3.axisBottom(x).tickValues(xMinor).tickSize(-4).tickFormat(() => ""), 0, plot.bottom, false);
        addAxis(d3.axisTop(x).tickValues(xMajor).tickSize(-9).tickFormat(() => ""), 0, plot.top, false);
        addAxis(d3.axisTop(x).tickValues(xMinor).tickSize(-4).tickFormat(() => ""), 0, plot.top, false);

        // frame: top and right dark, left and bottom soft grey
        const frame = svg.append("g").attr("fill", "none");
        frame.append("path").attr("d", `M${plot.left},${plot.top}H${plot.right}V${plot.bottom}`).attr("stroke", "#555").attr("stroke-width", 1.4);
        frame.append("path").attr("d", `M${plot.left},${plot.top}V${plot.bottom}H${plot.right}`).attr("stroke", "#a8a8a8").attr("stroke-width", 2.4);

        // legend
        const legendBox = { x: 1524 - offset, y: 121 - offset, w: 238, h: 230 };
        const legend = svg.append("g");
        legend.append("rect")
            .attr("x", legendBox.x).attr("y", legendBox.y)
            .attr("width", legendBox.w).attr("height", legendBox.h)
            .attr("fill", "#fff").attr("stroke", "#444").attr("stroke-width", 1.2);
        legend.append("path")
            .attr("d", `M${legendBox.x},${legendBox.y + legendBox.h}h${legendBox.w}v${-legendBox.h}`)
            .attr("fill", "none").attr("stroke", "#bbb").attr("stroke-width", 1.5);
        seriesNames.forEach((name, i) => {
            const ly = legendBox.y + 27 + i * 51.7;
            legend.append("line")
                .attr("x1", legendBox.x + 13).attr("x2", legendBox.x + 73)
                .attr("y1", ly).attr("y2", ly)
                .attr("stroke", seriesColors[i]).attr("stroke-width", 2);
            legend.append("text")
                .attr("x", legendBox.x + 86).attr("y", ly + 29)
                .attr("font-family", fontFamily).attr("font-size", 51).attr("font-weight", "bold")
                .text(name);
        });

        // titles
        const label = (text: string, tx: number, ty: number, size: number, rotate = 0) => svg.append("text")
            .attr("transform", `translate(${tx},${ty}) rotate(${rotate})`)
            .attr("text-anchor", "middle")
            .attr("font-family", fontFamily).attr("font-size", size).attr("font-weight", "bold")
            .attr("fill", "#000")
            .text(text);
        label("Internal consistency aceuracy:4349.245mGal", 1024 - offset, 77 - offset, 50.5);
        label("Distance(km)", 1024 - offset, 1397 - offset, 50);
        label("Free-air Gravity Anomaly(mGal)", 84 - offset, 690 - offset, 50, -90);
    }, []);

    return <svg ref={svgRef} width={width} height={height} style={{ display: "block" }} />;
};

export default App;
